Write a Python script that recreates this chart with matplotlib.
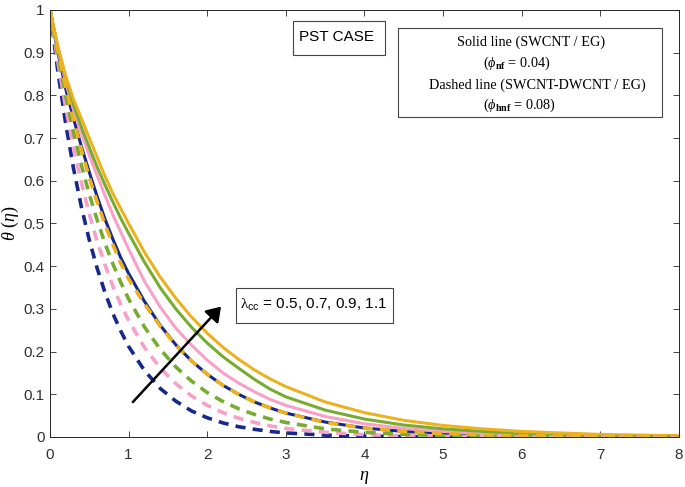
import matplotlib.pyplot as plt
from matplotlib.patches import FancyArrowPatch, Rectangle

plt.rcParams['mathtext.fontset'] = 'custom'
plt.rcParams['mathtext.rm'] = 'Liberation Serif'
plt.rcParams['mathtext.it'] = 'Liberation Serif:italic'
plt.rcParams['mathtext.bf'] = 'Liberation Serif:bold'
plt.rcParams['mathtext.sf'] = 'Liberation Sans'

eta = [0, 0.1, 0.2, 0.3, 0.4, 0.5, 0.6, 0.7, 0.8, 0.9, 1.0, 1.2, 1.4, 1.6, 1.8, 2.0,
       2.2, 2.4, 2.6, 2.8, 3.0, 3.5, 4.0, 4.5, 5.0, 5.5, 6.0, 7.0, 8.0]

# solid lines: SWCNT / EG, lambda_cc = 0.5, 0.7, 0.9, 1.1
solid_05 = [1, 0.90, 0.815, 0.745, 0.68, 0.62, 0.563, 0.51, 0.463, 0.42, 0.383, 0.318, 0.262, 0.216, 0.178, 0.147,
            0.121, 0.10, 0.082, 0.068, 0.056, 0.035, 0.021, 0.013, 0.008, 0.005, 0.003, 0.001, 0.0]
solid_07 = [1, 0.905, 0.83, 0.765, 0.71, 0.66, 0.612, 0.565, 0.52, 0.48, 0.44, 0.365, 0.305, 0.255, 0.215, 0.18,
            0.15, 0.126, 0.106, 0.088, 0.074, 0.048, 0.031, 0.02, 0.013, 0.008, 0.005, 0.002, 0.0]
solid_09 = [1, 0.91, 0.838, 0.777, 0.725, 0.678, 0.632, 0.59, 0.55, 0.512, 0.477, 0.41, 0.35, 0.30, 0.257, 0.22,
            0.188, 0.161, 0.135, 0.112, 0.094, 0.063, 0.042, 0.028, 0.019, 0.013, 0.008, 0.004, 0.001]
solid_11 = [1, 0.915, 0.845, 0.79, 0.745, 0.70, 0.655, 0.61, 0.57, 0.535, 0.50, 0.433, 0.375, 0.325, 0.281, 0.243,
            0.21, 0.182, 0.157, 0.136, 0.118, 0.082, 0.057, 0.039, 0.027, 0.019, 0.013, 0.006, 0.003]

# dashed lines: SWCNT-DWCNT / EG
dash_05 = [1, 0.856, 0.733, 0.628, 0.538, 0.461, 0.395, 0.338, 0.289, 0.248, 0.212, 0.156, 0.114, 0.084, 0.061, 0.045,
           0.033, 0.024, 0.018, 0.013, 0.0095, 0.0044, 0.002, 0.001, 0.0, 0.0, 0.0, 0.0, 0.0]
dash_07 = [1, 0.878, 0.771, 0.677, 0.595, 0.522, 0.458, 0.403, 0.353, 0.31, 0.273, 0.21, 0.162, 0.125, 0.096, 0.074,
           0.057, 0.044, 0.034, 0.026, 0.02, 0.011, 0.0055, 0.003, 0.0015, 0.001, 0.0, 0.0, 0.0]
dash_09 = [1, 0.893, 0.798, 0.713, 0.636, 0.568, 0.508, 0.453, 0.405, 0.362, 0.323, 0.258, 0.206, 0.164, 0.131, 0.104,
           0.083, 0.066, 0.053, 0.042, 0.034, 0.019, 0.011, 0.006, 0.0035, 0.002, 0.001, 0.0, 0.0]
dash_11 = [1, 0.905, 0.82, 0.743, 0.672, 0.607, 0.55, 0.497, 0.45, 0.407, 0.37, 0.312, 0.26, 0.215, 0.178, 0.147,
           0.121, 0.10, 0.082, 0.068, 0.056, 0.034, 0.021, 0.013, 0.008, 0.005, 0.003, 0.001, 0.0]

colors = ['#16288c', '#f8a0c8', '#77ac30', '#edb120']

fig = plt.figure(figsize=(6.85, 4.87), dpi=100)
ax = fig.add_axes([0.073, 0.1027, 0.918, 0.877])

for y, c in zip([solid_05, solid_07, solid_09, solid_11], colors):
    ax.plot(eta, y, color=c, lw=2.2, solid_capstyle='butt', solid_joinstyle='round')
for y, c in zip([dash_05, dash_07, dash_09, dash_11], colors):
    ax.plot(eta, y, color=c, lw=2.6, linestyle=(0, (2.8, 2.0)), dash_capstyle='butt')

ax.set_xlim(0, 8)
ax.set_ylim(0, 1)
ax.set_xticks(range(0, 9))
ax.set_yticks([0, 0.1, 0.2, 0.3, 0.4, 0.5, 0.6, 0.7, 0.8, 0.9, 1])
ax.set_yticklabels(['0', '0.1', '0.2', '0.3', '0.4', '0.5', '0.6', '0.7', '0.8', '0.9', '1'])
ax.tick_params(direction='in', top=True, right=True, length=4, width=0.6,
               labelsize=11, labelcolor='#303030', color='#262626')
ax.tick_params(axis='x', pad=8)
ax.tick_params(axis='y', pad=4)
for lab in ax.get_xticklabels() + ax.get_yticklabels():
    lab.set_family('Liberation Sans')
for s in ax.spines.values():
    s.set_linewidth(0.7)
    s.set_color('#262626')

ax.set_xlabel(r'$\eta$', fontsize=13)
ax.set_ylabel(r'$\theta\ (\eta)$', fontsize=13)
ax.xaxis.set_label_coords(0.5, -0.072)
ax.yaxis.set_label_coords(-0.046, 0.5)

# PST CASE box
ax.add_patch(Rectangle((0.386, 0.894), 0.147, 0.080, transform=ax.transAxes,
                       fc='white', ec='#444444', lw=0.8, zorder=5))
ax.text(0.455, 0.936, 'PST CASE', transform=ax.transAxes, fontsize=11,
        family='Liberation Sans', ha='center', va='center', zorder=6)

# line-style key box
ax.add_patch(Rectangle((0.553, 0.749), 0.420, 0.209, transform=ax.transAxes,
                       fc='white', ec='#444444', lw=0.8, zorder=5))
key_font = dict(transform=ax.transAxes, fontsize=10.3, family='Liberation Serif', va='center', zorder=6)
ax.text(0.765, 0.925, 'Solid line (SWCNT / EG)', ha='center', **key_font)
ax.text(0.688, 0.876, r'($\phi_{\mathbf{nf}}$ = 0.04)', ha='left', **key_font)
ax.text(0.775, 0.824, 'Dashed line (SWCNT-DWCNT / EG)', ha='center', **key_font)
ax.text(0.688, 0.776, r'($\phi_{\mathbf{hnf}}$ = 0.08)', ha='left', **key_font)

# lambda box and arrow
ax.add_patch(Rectangle((0.296, 0.267), 0.249, 0.082, transform=ax.transAxes,
                       fc='white', ec='#444444', lw=0.8, zorder=5))
ax.text(0.420, 0.308, r'$\mathrm{\lambda}_{\mathsf{cc}}$ = 0.5, 0.7, 0.9, 1.1', transform=ax.transAxes,
        fontsize=11, family='Liberation Sans', ha='center', va='center', zorder=6)

arr = FancyArrowPatch((1.03, 0.077), (2.2, 0.31), arrowstyle='-|>,head_length=0.6,head_width=0.4',
                      mutation_scale=14, color='black', lw=1.8, zorder=7)
ax.add_patch(arr)

fig.savefig('out.png', dpi=100)
